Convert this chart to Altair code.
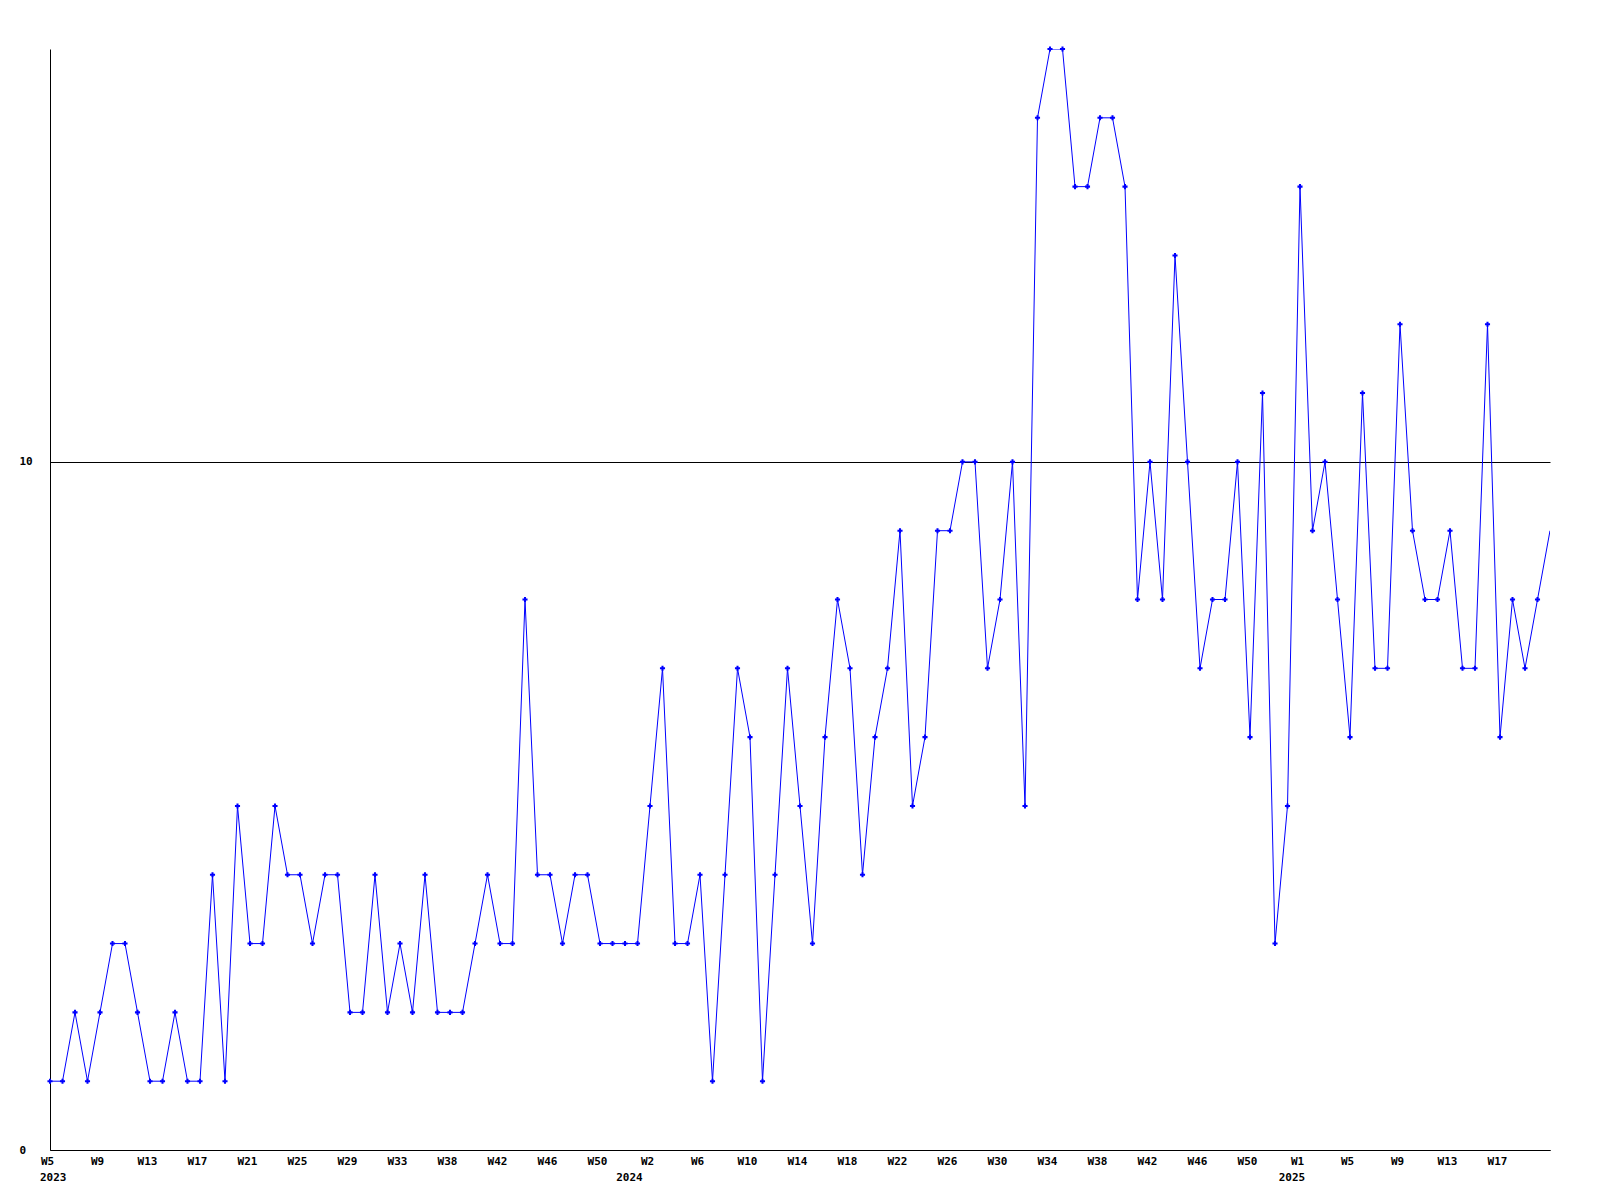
import json
import altair as alt
import pandas as pd

# weekly values, 2023 W5 .. 2025 W21 (one point per week)
values = [
    1, 1, 2, 1, 2, 3, 3, 2, 1, 1,
    2, 1, 1, 4, 1, 5, 3, 3, 5, 4,
    4, 3, 4, 4, 2, 2, 4, 2, 3, 2,
    4, 2, 2, 2, 3, 4, 3, 3, 8, 4,
    4, 3, 4, 4, 3, 3, 3, 3, 5, 7,
    3, 3, 4, 1, 4, 7, 6, 1, 4, 7,
    5, 3, 6, 8, 7, 4, 6, 7, 9, 5,
    6, 9, 9, 10, 10, 7, 8, 10, 5, 15,
    16, 16, 14, 14, 15, 15, 14, 8, 10, 8,
    13, 10, 7, 8, 8, 10, 6, 11, 3, 5,
    14, 9, 10, 8, 6, 11, 7, 7, 12, 9,
    8, 8, 9, 7, 7, 12, 6, 8, 7, 8,
    9,
]

# x-axis tick labels (every 4th week)
tick_labels = ["W5", "W9", "W13", "W17", "W21", "W25", "W29", "W33", "W38", "W42",
               "W46", "W50", "W2", "W6", "W10", "W14", "W18", "W22", "W26", "W30",
               "W34", "W38", "W42", "W46", "W50", "W1", "W5", "W9", "W13", "W17"]

years = ["2023", "2024", "2025"]
year_start_week = [0, 47, 100]

y_ticks = [0, 10]

n = len(values)
df = pd.DataFrame({"i": list(range(n)), "v": values})
ydf = pd.DataFrame({"i": year_start_week, "year": years})

W, H = 1500, 1101
FONT = "DejaVu Sans Mono"
BLUE = "#0000ff"

tick_values = list(range(0, 4 * len(tick_labels), 4))
label_expr = json.dumps(tick_labels) + "[round(datum.value / 4)]"

xscale = alt.Scale(domain=[0, n - 1], nice=False, zero=False)
yscale = alt.Scale(domain=[0, 16], nice=False)

xaxis = alt.Axis(values=tick_values, labelExpr=label_expr, title=None, ticks=False,
                 grid=False, domainColor="black", domainWidth=1,
                 labelFont=FONT, labelFontSize=11, labelFontWeight="bold",
                 labelColor="black", labelPadding=5, labelOffset=-3,
                 labelAlign="center", labelFlush=False, labelOverlap=False)
yaxis = alt.Axis(values=y_ticks, format="d", title=None, ticks=False, grid=True,
                 gridColor="black", gridOpacity=1, gridWidth=1,
                 domainColor="black", domainWidth=1,
                 labelFont=FONT, labelFontSize=11, labelFontWeight="bold",
                 labelColor="black", labelAlign="left", labelPadding=31,
                 labelBaseline="middle")

base = alt.Chart(df)

line = base.mark_line(color=BLUE, strokeWidth=1, clip=True).encode(
    x=alt.X("i:Q", scale=xscale, axis=xaxis),
    y=alt.Y("v:Q", scale=yscale, axis=yaxis),
)

pts = base.transform_filter(alt.datum.i < n - 1).mark_point(
    shape="cross", size=26, filled=True, color=BLUE, opacity=1
).encode(
    x=alt.X("i:Q", scale=xscale),
    y=alt.Y("v:Q", scale=yscale),
)

yr_first = alt.Chart(ydf).transform_filter(alt.datum.i == 0).mark_text(
    font=FONT, fontSize=11, fontWeight="bold", color="black",
    align="left", baseline="top", dx=-10
).encode(
    x=alt.X("i:Q", scale=xscale),
    y=alt.value(H + 22),
    text="year:N",
)

yr_rest = alt.Chart(ydf).transform_filter(alt.datum.i > 0).mark_text(
    font=FONT, fontSize=11, fontWeight="bold", color="black",
    align="center", baseline="top", dx=-8
).encode(
    x=alt.X("i:Q", scale=xscale),
    y=alt.value(H + 22),
    text="year:N",
)

chart = alt.layer(line, pts, yr_first, yr_rest).properties(
    width=W, height=H,
    autosize=alt.AutoSizeParams(type="none"),
    padding={"left": 42, "top": 41, "right": 42, "bottom": 45},
    background="white",
).configure_view(stroke=None)

chart.save("out.html", embed_options={"renderer": "svg", "actions": False})
